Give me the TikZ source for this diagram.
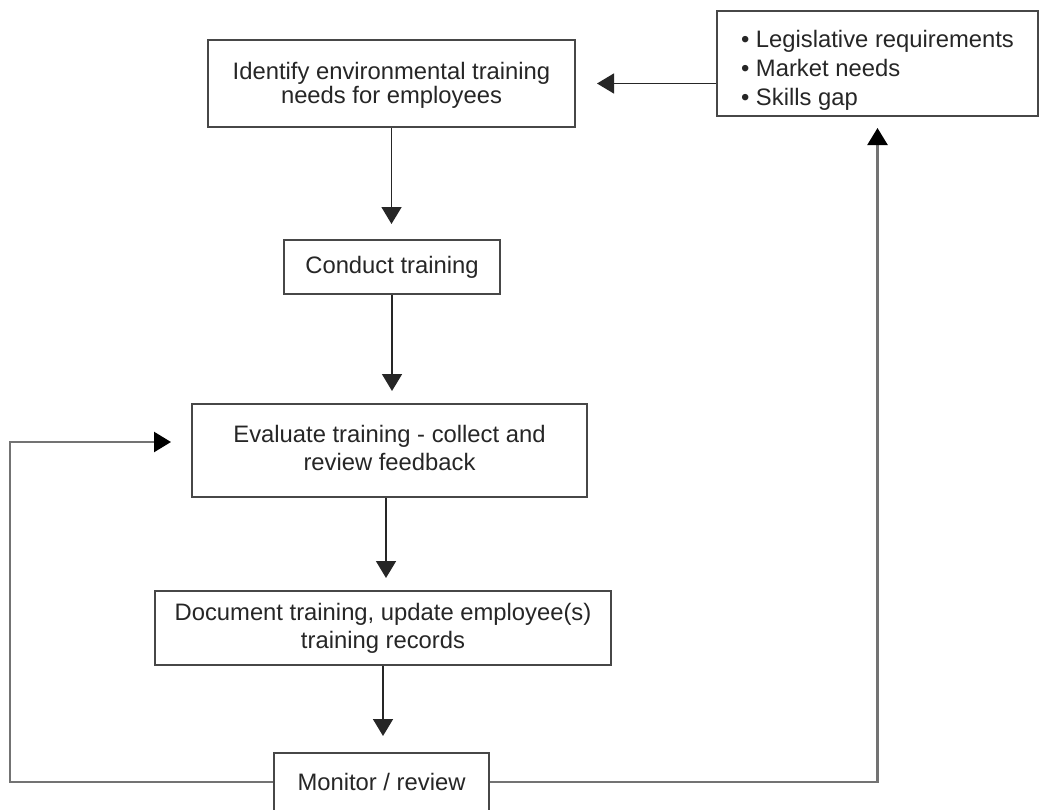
\documentclass[tikz,border=0pt]{standalone}
\usepackage{fontspec}
\setmainfont{Liberation Sans}
\usetikzlibrary{arrows.meta,calc}
\begin{document}
\begin{tikzpicture}[x=1pt,y=-1pt,
  box/.style={draw=black!72, line width=2pt, fill=white, inner sep=0pt, align=center,
    text=black!85, font=\fontsize{23.8}{28}\selectfont},
  arr/.style={draw=black!85, line width=1.6pt, -{Triangle[width=20pt,length=17pt]}},
  loopline/.style={draw=black!55, line width=2.4pt, -{Triangle[width=20pt,length=17pt,color=black]}}
]
\useasboundingbox (0,0) rectangle (1041,809);
\clip (0,0) rectangle (1041,809);
\fill[white] (0,0) rectangle (1041,809);

\node[box, minimum width=367pt, minimum height=87pt, font=\fontsize{23.8}{23}\selectfont] (b1) at (391.5,83.5)
  {\raisebox{-3pt}[\height][\depth]{\begin{tabular}{@{}c@{}}Identify environmental training\\needs for employees\end{tabular}}};
\node[box, minimum width=321pt, minimum height=105pt, font=\fontsize{23.8}{29}\selectfont] (leg) at (877.5,63.5)
  {\raisebox{-7pt}[\height][\depth]{\begin{tabular}{@{}l@{}}\textbullet\ Legislative requirements\\\textbullet\ Market needs\\\textbullet\ Skills gap\end{tabular}}};
\node[box, minimum width=216pt, minimum height=54pt] (ct) at (392,267) {Conduct training};
\node[box, minimum width=395pt, minimum height=93pt] (ev) at (389.5,450.5)
  {\begin{tabular}{@{}c@{}}Evaluate training - collect and\\review feedback\end{tabular}};
\node[box, minimum width=456pt, minimum height=74pt] (doc) at (383,628)
  {Document training, update employee(s)\\training records};
\node[box, minimum width=215pt, minimum height=58pt] (mon) at (381.5,782) {Monitor / review};

\coordinate (evtop) at (386,497);
\draw[arr, shorten >=15pt] (b1.south) -- (b1.south |- ct.north);
\draw[arr, shorten >=12pt] (ct.south) -- (ct.south |- ev.north);
\draw[arr, shorten >=12pt] (ev.south -| evtop) -- (doc.north -| evtop);
\draw[arr, shorten >=16pt] (doc.south) -- (doc.south |- mon.north);
\draw[arr, shorten >=21pt] (leg.west |- b1.east) -- (b1.east);
\draw[loopline, shorten >=20pt] (mon.west) -- ++(-263,0) |- ([yshift=8.5pt]ev.west);
\draw[loopline, shorten >=11pt] (mon.east) -| (leg.south);
\end{tikzpicture}
\end{document}
